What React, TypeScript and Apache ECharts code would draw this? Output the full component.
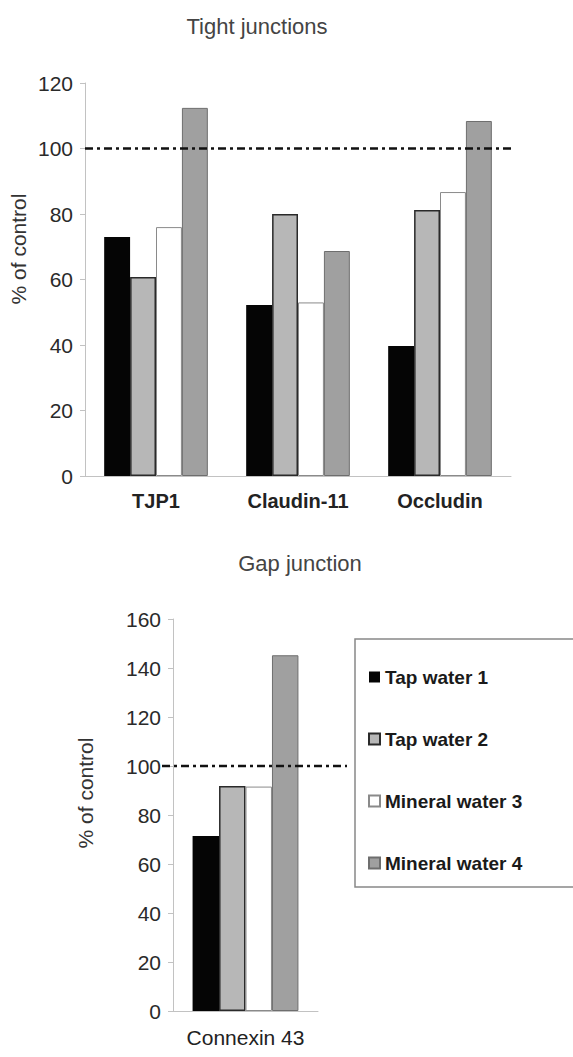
import React, { useEffect, useRef } from "react";
import * as echarts from "echarts";

const topCategories = ["TJP1", "Claudin-11", "Occludin"];
const bottomCategories = ["Connexin 43"];
const seriesNames = ["Tap water 1", "Tap water 2", "Mineral water 3", "Mineral water 4"];

const tap1Top = [73, 52.2, 39.7];
const tap2Top = [60.8, 80, 81.2];
const mineral3Top = [76, 53, 86.7];
const mineral4Top = [112.4, 68.7, 108.4];

const tap1Bottom = [71.4];
const tap2Bottom = [91.8];
const mineral3Bottom = [91.6];
const mineral4Bottom = [145.2];

const controlLevel = 100;

const FONT = "'Liberation Sans', Arial, sans-serif";

const styles = [
  { color: "#050505", borderColor: "#050505", borderWidth: 0 },
  { color: "#b7b7b7", borderColor: "#2a2a2a", borderWidth: 1.5 },
  { color: "#ffffff", borderColor: "#8a8a8a", borderWidth: 1 },
  { color: "#a0a0a0", borderColor: "#6e6e6e", borderWidth: 1 },
];

export default function App() {
  const ref = useRef<HTMLDivElement>(null);
  useEffect(() => {
    document.body.style.margin = "0";
    const chart = echarts.init(ref.current!, null, { renderer: "svg" });
    const topData = [tap1Top, tap2Top, mineral3Top, mineral4Top];
    const bottomData = [tap1Bottom, tap2Bottom, mineral3Bottom, mineral4Bottom];
    const dash = [8, 4, 3, 4];

    const series: any[] = [];
    seriesNames.forEach((name, i) => {
      const s: any = {
        type: "bar",
        name,
        xAxisIndex: 0,
        yAxisIndex: 0,
        data: topData[i],
        barGap: "0%",
        barCategoryGap: "27%",
        itemStyle: styles[i],
        silent: true,
      };
      if (i === 3) {
        s.markLine = {
          silent: true,
          symbol: "none",
          label: { show: false },
          lineStyle: { color: "#111", width: 2.5, type: dash },
          data: [{ yAxis: controlLevel }],
          z: 10,
        };
      }
      series.push(s);
    });
    seriesNames.forEach((name, i) => {
      series.push({
        type: "bar",
        name,
        xAxisIndex: 1,
        yAxisIndex: 1,
        data: bottomData[i],
        barGap: "0%",
        barCategoryGap: "27%",
        itemStyle: styles[i],
        silent: true,
      });
    });

    const axisLineStyle = { lineStyle: { color: "#c2c2c2", width: 1 } };
    const yAxisCommon = {
      type: "value",
      axisLine: { show: true, ...axisLineStyle },
      axisTick: { show: true, length: 5, ...axisLineStyle },
      splitLine: { show: false },
      axisLabel: { fontSize: 21, color: "#2a2a2a", fontFamily: FONT, margin: 12 },
    };
    const xAxisCommon = {
      type: "category",
      axisLine: { show: true, ...axisLineStyle },
      axisTick: { show: false },
      axisLabel: { fontSize: 20, color: "#222", fontFamily: FONT, margin: 15 },
    };

    const option: any = {
      animation: false,
      backgroundColor: "#fff",
      title: [
        {
          text: "Tight junctions",
          left: 252,
          top: 10,
          textAlign: "center",
          textStyle: { fontSize: 22, fontWeight: "normal", color: "#444", fontFamily: FONT },
        },
        {
          text: "Gap junction",
          left: 295,
          top: 547,
          textAlign: "center",
          textStyle: { fontSize: 22, fontWeight: "normal", color: "#444", fontFamily: FONT },
        },
      ],
      legend: {
        orient: "vertical",
        left: 363,
        top: 662,
        itemWidth: 11,
        itemHeight: 11,
        itemGap: 42,
        icon: "rect",
        data: seriesNames,
        selectedMode: false,
        textStyle: { fontSize: 19, fontWeight: "bold", color: "#1a1a1a", fontFamily: FONT, lineHeight: 20 },
      },
      grid: [
        { left: 85, right: 62, top: 83, bottom: 581 },
        { left: 173, right: 255, top: 619, bottom: 46 },
      ],
      xAxis: [
        {
          ...xAxisCommon,
          gridIndex: 0,
          data: topCategories,
          axisLabel: { ...xAxisCommon.axisLabel, fontWeight: "bold" },
        },
        {
          ...xAxisCommon,
          gridIndex: 1,
          data: bottomCategories,
          axisLabel: { ...xAxisCommon.axisLabel, fontSize: 21, margin: 16 },
        },
      ],
      yAxis: [
        { ...yAxisCommon, gridIndex: 0, min: 0, max: 120, interval: 20 },
        { ...yAxisCommon, gridIndex: 1, min: 0, max: 160, interval: 20 },
      ],
      series,
    };
    chart.setOption(option);

    const y100 = chart.convertToPixel({ yAxisIndex: 1 } as any, controlLevel) as number;
    chart.setOption({
      graphic: [
        {
          id: "ctrlLine",
          type: "line",
          z: 100,
          silent: true,
          shape: { x1: 162, y1: y100, x2: 347, y2: y100 },
          style: { stroke: "#111", lineWidth: 2.5, lineDash: dash },
        },
        {
          id: "legendBox",
          type: "rect",
          silent: true,
          shape: { x: 355, y: 639, width: 240, height: 248 },
          style: { fill: "none", stroke: "#888", lineWidth: 1.5 },
        },
        {
          id: "yNameTop",
          type: "text",
          x: 18,
          y: 249,
          rotation: Math.PI / 2,
          silent: true,
          style: {
            text: "% of control",
            font: `21px ${FONT}`,
            fill: "#333",
            textAlign: "center",
            textVerticalAlign: "middle",
          },
        },
        {
          id: "yNameBottom",
          type: "text",
          x: 85,
          y: 793,
          rotation: Math.PI / 2,
          silent: true,
          style: {
            text: "% of control",
            font: `21px ${FONT}`,
            fill: "#333",
            textAlign: "center",
            textVerticalAlign: "middle",
          },
        },
      ],
    });

    return () => chart.dispose();
  }, []);
  return <div ref={ref} style={{ width: 573, height: 1057 }} />;
}
